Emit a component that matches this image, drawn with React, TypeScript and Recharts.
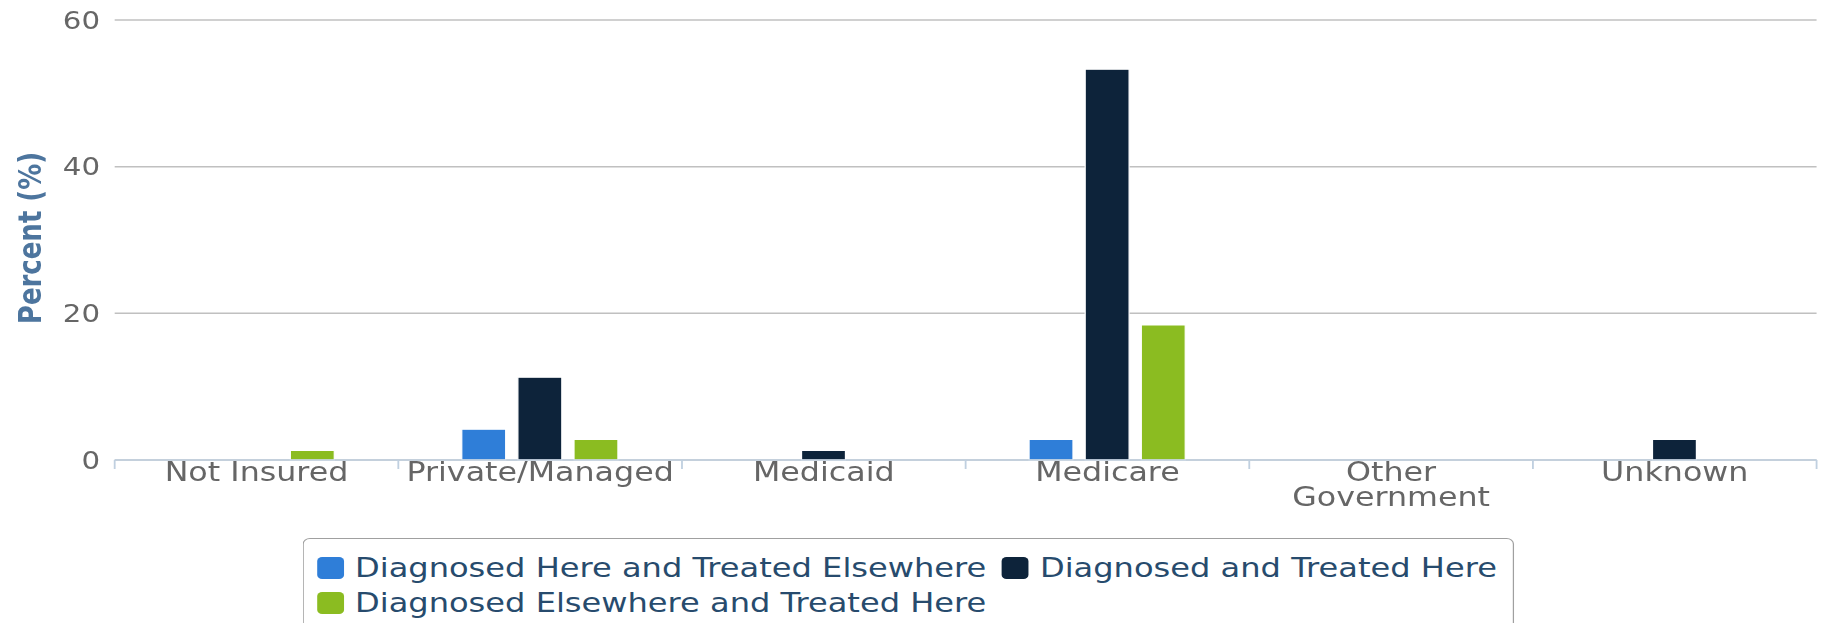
import React from 'react';
import { BarChart, Bar, XAxis, YAxis, CartesianGrid, Legend } from 'recharts';

const categories = ['Not Insured', 'Private/Managed', 'Medicaid', 'Medicare', 'Other Government', 'Unknown'];
const diagnosedHereTreatedElsewhere = [null, 4.2, null, 2.8, null, null];
const diagnosedAndTreatedHere = [null, 11.3, 1.3, 53.3, null, 2.8];
const diagnosedElsewhereTreatedHere = [1.3, 2.8, null, 18.4, null, null];
const yTicks = [0, 20, 40, 60];
const seriesNames = [
  'Diagnosed Here and Treated Elsewhere',
  'Diagnosed and Treated Here',
  'Diagnosed Elsewhere and Treated Here',
];
const seriesColors = ['#2f7ed8', '#0d233a', '#8bbc21'];
const yAxisTitle = 'Percent (%)';

const data = categories.map((c, i) => ({
  category: c,
  s0: diagnosedHereTreatedElsewhere[i],
  s1: diagnosedAndTreatedHere[i],
  s2: diagnosedElsewhereTreatedHere[i],
}));

const FONT = '"DejaVu Sans", Verdana, sans-serif';
const STRETCH = 1.22;
const W = 1497;
const H = 623;

const splitLabel = (s: string) => (s.length > 12 && s.includes(' ') ? s.split(' ') : [s]);

const XTick = (props: any) => {
  const { x, y, payload, index, width } = props;
  const half = payload && payload.offset ? payload.offset : width / (2 * categories.length);
  const lines = splitLabel(String(payload.value));
  return (
    <g>
      <line x1={x - half} x2={x - half} y1={y} y2={y + 9} stroke="#C0D0E0" strokeWidth={1.5} />
      {index === categories.length - 1 && (
        <line x1={x + half} x2={x + half} y1={y} y2={y + 9} stroke="#C0D0E0" strokeWidth={1.5} />
      )}
      <text x={x} y={y + 21} textAnchor="middle" fill="#666666" fontSize={26} fontFamily={FONT}>
        {lines.map((l, i) => (
          <tspan key={i} x={x} dy={i === 0 ? 0 : 25}>
            {l}
          </tspan>
        ))}
      </text>
    </g>
  );
};

const YTitle = (props: any) => {
  const vb = props.viewBox || { x: 0, y: 20, width: 94, height: 440 };
  const cy = vb.y + vb.height / 2 - 2;
  const cx = 34;
  return (
    <text
      x={cx}
      y={cy}
      transform={`rotate(-90, ${cx}, ${cy})`}
      textAnchor="middle"
      fill="#4d759e"
      fontWeight="bold"
      fontSize={26}
      fontFamily={FONT}
    >
      {yAxisTitle}
    </text>
  );
};

const LegendContent = (props: any) => {
  const payload = [...(props.payload || [])].sort(
    (a: any, b: any) => seriesNames.indexOf(a.value) - seriesNames.indexOf(b.value)
  );
  return (
    <div
      style={{
        border: '1.5px solid #a0a0a0',
        borderRadius: 6,
        padding: '11px 0 12px 11px',
        display: 'flex',
        flexWrap: 'wrap',
        columnGap: 13,
        boxSizing: 'border-box',
        width: '100%',
        background: '#fff',
      }}
    >
      {payload.map((p: any, i: number) => (
        <div key={i} style={{ display: 'flex', alignItems: 'center', height: 35 }}>
          <span
            style={{
              display: 'inline-block',
              width: 22,
              height: 22,
              background: p.color,
              borderRadius: 4,
              marginRight: 9,
            }}
          />
          <span style={{ fontFamily: FONT, fontSize: 26.3, color: '#274b6d', whiteSpace: 'nowrap' }}>{p.value}</span>
        </div>
      ))}
    </div>
  );
};

export default function App() {
  return (
    <div style={{ position: 'absolute', left: 0, top: 0, width: 1826, height: H, overflow: 'hidden', background: '#fff' }}>
      <div style={{ transform: `scaleX(${STRETCH})`, transformOrigin: '0 0', width: W, height: H }}>
        <BarChart
          width={W}
          height={H}
          data={data}
          margin={{ top: 20, right: 8, left: 0, bottom: 0 }}
          barSize={36}
          barGap={10}
        >
          <CartesianGrid vertical={false} stroke="#C0C0C0" strokeWidth={1.5} />
          <XAxis
            dataKey="category"
            height={163}
            tickLine={false}
            tickSize={0}
            tickMargin={0}
            axisLine={{ stroke: '#C0D0E0', strokeWidth: 1.5 }}
            tick={<XTick />}
            interval={0}
          />
          <YAxis
            width={94}
            domain={[0, 60]}
            ticks={yTicks}
            tickLine={false}
            tickSize={0}
            axisLine={false}
            tickMargin={12}
            tick={{ fill: '#666666', fontSize: 24, fontFamily: FONT }}
            label={<YTitle />}
          />
          <Legend
            layout="horizontal"
            verticalAlign="middle"
            align="center"
            content={<LegendContent />}
            wrapperStyle={{ position: 'absolute', left: 248, top: 538, width: 993, height: 'auto' }}
          />
          <Bar dataKey="s0" name={seriesNames[0]} fill={seriesColors[0]} stroke="#ffffff" strokeWidth={1} isAnimationActive={false} />
          <Bar dataKey="s1" name={seriesNames[1]} fill={seriesColors[1]} stroke="#ffffff" strokeWidth={1} isAnimationActive={false} />
          <Bar dataKey="s2" name={seriesNames[2]} fill={seriesColors[2]} stroke="#ffffff" strokeWidth={1} isAnimationActive={false} />
        </BarChart>
      </div>
    </div>
  );
}
